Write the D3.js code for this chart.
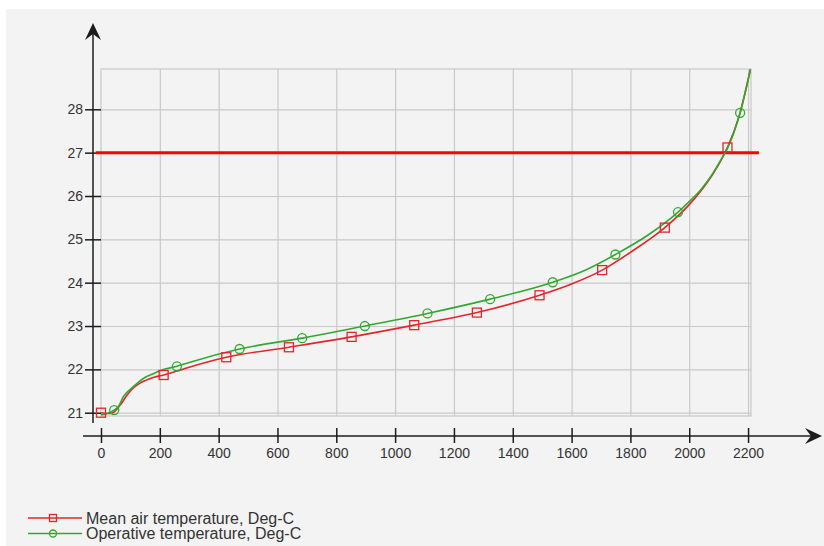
<!DOCTYPE html>
<html>
<head>
<meta charset="utf-8">
<script src="https://cdn.jsdelivr.net/npm/d3@7"></script>
<style>
  html, body { margin: 0; padding: 0; background: #ffffff; }
  svg { display: block; }
</style>
</head>
<body>
<svg id="chart"></svg>
<script>
// hours at which each temperature was read (sorted duration curve)
const airHours = [0, 30, 45, 70, 90, 110, 130, 150, 180, 213, 258, 300, 426, 639, 852, 1065, 1278, 1491, 1600, 1704, 1800, 1917, 2000, 2040, 2080, 2110, 2130, 2170, 2208];
const airTemps = [21.0, 20.98, 21.02, 21.22, 21.42, 21.57, 21.67, 21.74, 21.82, 21.87, 21.96, 22.05, 22.28, 22.51, 22.75, 23.02, 23.31, 23.71, 23.97, 24.29, 24.7, 25.27, 25.8, 26.12, 26.5, 26.85, 27.12, 27.85, 28.92];
const airMarkers = [0, 213, 426, 639, 852, 1065, 1278, 1491, 1704, 1917, 2130];

const opHours = [0, 20, 45, 60, 76, 110, 144, 178, 200, 258, 300, 471, 684, 897, 1110, 1323, 1536, 1650, 1749, 1860, 1962, 2000, 2040, 2080, 2110, 2130, 2173, 2208];
const opTemps = [20.95, 20.98, 21.06, 21.15, 21.37, 21.6, 21.79, 21.9, 21.97, 22.07, 22.16, 22.47, 22.72, 23.0, 23.29, 23.62, 24.01, 24.3, 24.65, 25.1, 25.63, 25.87, 26.15, 26.52, 26.86, 27.1, 27.92, 28.92];
const opMarkers = [45, 258, 471, 684, 897, 1110, 1323, 1536, 1749, 1962, 2173];

const xTicks = [0, 200, 400, 600, 800, 1000, 1200, 1400, 1600, 1800, 2000, 2200];
const yTicks = [21, 22, 23, 24, 25, 26, 27, 28];
const limitTemp = 27;
const limitSpan = [-18, 2237];

const seriesNames = ['Mean air temperature, Deg-C', 'Operative temperature, Deg-C'];

const width = 824;
const height = 546;
const bg = '#f3f3f3';
const gridColor = '#c9c9c9';
const axisColor = '#1c1c1c';
const textColor = '#333333';
const redColor = '#e5252c';
const greenColor = '#2faa2f';
const font = '"Liberation Sans", Arial, sans-serif';

const svg = d3.select('#chart').attr('width', width).attr('height', height);

// panel background
svg.append('rect')
  .attr('x', 6).attr('y', 9)
  .attr('width', width - 6).attr('height', height - 9)
  .attr('fill', bg);

const x = d3.scaleLinear().domain([0, 2210]).range([101, 751]);
const y = d3.scaleLinear().domain([20.924, 28.93]).range([416, 69]);

// plot frame + grid
svg.append('rect')
  .attr('x', x(0)).attr('y', y(28.93))
  .attr('width', x(2210) - x(0)).attr('height', y(20.924) - y(28.93))
  .attr('fill', bg).attr('stroke', gridColor).attr('stroke-width', 1.2);

svg.append('g')
  .attr('transform', `translate(0,${y(20.924)})`)
  .call(d3.axisBottom(x).tickValues(xTicks.slice(1)).tickSize(-(y(20.924) - y(28.93))).tickFormat(''))
  .call(g => g.select('.domain').remove())
  .call(g => g.selectAll('line').attr('stroke', gridColor).attr('stroke-width', 1.2));

svg.append('g')
  .attr('transform', `translate(${x(0)},0)`)
  .call(d3.axisLeft(y).tickValues(yTicks).tickSize(-(x(2210) - x(0))).tickFormat(''))
  .call(g => g.select('.domain').remove())
  .call(g => g.selectAll('line').attr('stroke', gridColor).attr('stroke-width', 1.2));

// y axis with arrow
const yAxisX = 93;
svg.append('line')
  .attr('x1', yAxisX).attr('x2', yAxisX)
  .attr('y1', 28).attr('y2', 423)
  .attr('stroke', axisColor).attr('stroke-width', 1.5);
svg.append('path')
  .attr('d', `M${yAxisX},23 L${yAxisX + 8},40 L${yAxisX},34 L${yAxisX - 8},40 Z`)
  .attr('fill', axisColor);

const yAxis = svg.append('g')
  .attr('transform', `translate(${x(0)},0)`)
  .call(d3.axisLeft(y).tickValues(yTicks).tickSize(16).tickPadding(2).tickFormat(d3.format('d')));
yAxis.select('.domain').remove();
yAxis.selectAll('line').attr('stroke', axisColor).attr('stroke-width', 1.5);
yAxis.selectAll('text').attr('font-family', font).attr('font-size', 14).attr('fill', textColor);

// x axis with arrow
const xAxisY = 436;
svg.append('line')
  .attr('x1', 83).attr('x2', 815)
  .attr('y1', xAxisY).attr('y2', xAxisY)
  .attr('stroke', axisColor).attr('stroke-width', 1.5);
svg.append('path')
  .attr('d', `M822,${xAxisY} L805,${xAxisY - 8} L811,${xAxisY} L805,${xAxisY + 8} Z`)
  .attr('fill', axisColor);

const xAxis = svg.append('g')
  .attr('transform', `translate(0,${xAxisY - 8})`)
  .call(d3.axisBottom(x).tickValues(xTicks).tickSize(15).tickPadding(5).tickFormat(d3.format('d')));
xAxis.select('.domain').remove();
xAxis.selectAll('line').attr('stroke', axisColor).attr('stroke-width', 1.5);
xAxis.selectAll('text').attr('font-family', font).attr('font-size', 14).attr('fill', textColor);

// limit line
svg.append('line')
  .attr('x1', x(limitSpan[0])).attr('x2', x(limitSpan[1]))
  .attr('y1', y(limitTemp)).attr('y2', y(limitTemp))
  .attr('stroke', '#ff0000').attr('stroke-width', 3);

// series
const series = [
  { name: seriesNames[0], hours: airHours, temps: airTemps, markers: airMarkers, color: redColor, shape: 'square' },
  { name: seriesNames[1], hours: opHours, temps: opTemps, markers: opMarkers, color: greenColor, shape: 'circle' },
];

const line = d3.line()
  .x(d => x(d[0]))
  .y(d => y(d[1]))
  .curve(d3.curveMonotoneX);

series.forEach(s => {
  const pts = s.hours.map((h, i) => [h, s.temps[i]]);
  svg.append('path')
    .datum(pts)
    .attr('fill', 'none')
    .attr('stroke', s.color)
    .attr('stroke-width', 1.6)
    .attr('d', line);
});

function drawMarker(g, shape, cx, cy, size, color) {
  if (shape === 'square') {
    g.append('rect')
      .attr('x', cx - size / 2).attr('y', cy - size / 2)
      .attr('width', size).attr('height', size)
      .attr('fill', 'none').attr('stroke', color).attr('stroke-width', 1.3);
  } else {
    g.append('circle')
      .attr('cx', cx).attr('cy', cy).attr('r', size / 2)
      .attr('fill', 'none').attr('stroke', color).attr('stroke-width', 1.3);
  }
}

series.forEach(s => {
  const g = svg.append('g');
  s.markers.forEach(h => {
    const i = s.hours.indexOf(h);
    drawMarker(g, s.shape, x(h), y(s.temps[i]), 9, s.color);
  });
});

// legend
const legend = svg.append('g');
series.forEach((s, i) => {
  const ly = 518 + i * 15.5;
  legend.append('line')
    .attr('x1', 28).attr('x2', 82)
    .attr('y1', ly).attr('y2', ly)
    .attr('stroke', s.color).attr('stroke-width', 1.3);
  drawMarker(legend, s.shape, 53, ly, 7, s.color);
  legend.append('text')
    .attr('x', 86).attr('y', ly + 5.5)
    .attr('font-family', font).attr('font-size', 16)
    .attr('fill', textColor)
    .text(s.name);
});
</script>
</body>
</html>
